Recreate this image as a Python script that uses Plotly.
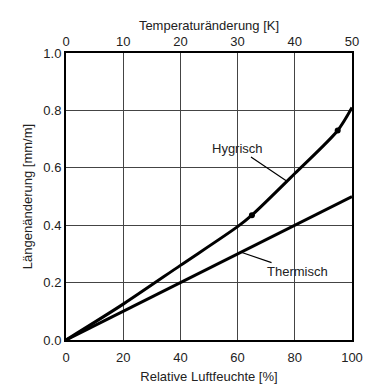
import plotly.graph_objects as go

# Relative humidity [%] vs. hygric length change [mm/m]
humidity = [0, 20, 40, 60, 65, 80, 95, 100]
hygric = [0, 0.125, 0.26, 0.395, 0.435, 0.58, 0.73, 0.81]
# measured points marked on the hygric curve
marked_humidity = [65, 95]
marked_hygric = [0.435, 0.73]

# Temperature change [K] vs. thermal length change [mm/m]
temperature = [0, 50]
thermal = [0, 0.5]

x_ticks = [0, 20, 40, 60, 80, 100]
t_ticks = [0, 10, 20, 30, 40, 50]
y_ticks = [0.0, 0.2, 0.4, 0.6, 0.8, 1.0]

font = dict(family="Liberation Sans, Arial, sans-serif", size=13, color="#222")

fig = go.Figure()
fig.add_trace(go.Scatter(x=humidity, y=hygric, mode="lines",
                         line=dict(color="black", width=3, shape="spline", smoothing=0.8),
                         xaxis="x", yaxis="y", showlegend=False))
fig.add_trace(go.Scatter(x=marked_humidity, y=marked_hygric, mode="markers",
                         marker=dict(color="black", size=6),
                         xaxis="x", yaxis="y", showlegend=False))
fig.add_trace(go.Scatter(x=temperature, y=thermal, mode="lines",
                         line=dict(color="black", width=3),
                         xaxis="x2", yaxis="y", showlegend=False))

axis_common = dict(showgrid=True, gridcolor="#444", gridwidth=1.3, zeroline=False,
                   showline=True, linecolor="black", linewidth=2, ticks="",
                   automargin=False, tickfont=font, title_font=font)

fig.update_layout(
    width=365, height=387,
    margin=dict(l=66, r=13, t=53, b=47),
    paper_bgcolor="white", plot_bgcolor="white",
    font=font,
    xaxis=dict(range=[0, 100], tickvals=x_ticks, ticklabelstandoff=4,
               title=dict(text="Relative Luftfeuchte [%]", standoff=8), **axis_common),
    xaxis2=dict(range=[0, 50], tickvals=t_ticks, overlaying="x", side="top",
                title=dict(text="Temperaturänderung [K]", standoff=0), **axis_common),
    yaxis=dict(range=[0, 1.0], tickvals=y_ticks, tickformat=".1f", mirror=True,
               title=dict(text="Längenänderung [mm/m]", standoff=8), **axis_common),
    annotations=[
        dict(text="Hygrisch", x=77, y=0.555, xref="x", yref="y",
             ax=60, ay=0.669, axref="x", ayref="y", showarrow=True,
             arrowhead=0, arrowwidth=1.2, arrowcolor="black", font=font),
        dict(text="Thermisch", x=61.5, y=0.305, xref="x", yref="y",
             ax=81, ay=0.238, axref="x", ayref="y", showarrow=True,
             arrowhead=0, arrowwidth=1.2, arrowcolor="black", font=font),
    ],
)

fig.write_html("out.html")
